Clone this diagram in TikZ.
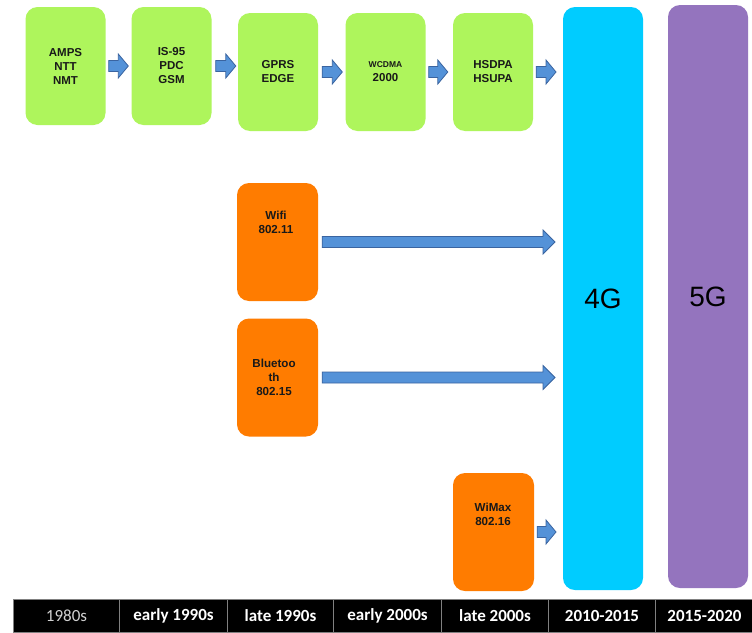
\documentclass[tikz,border=0pt]{standalone}
\usepackage{fontspec}
\setmainfont{Liberation Sans}
\newfontfamily\barfont{Carlito}
\usetikzlibrary{calc}
\definecolor{gengreen}{RGB}{174,245,92}
\definecolor{genorange}{RGB}{255,124,0}
\definecolor{gencyan}{RGB}{0,204,255}
\definecolor{genpurple}{RGB}{148,116,190}
\definecolor{arrfill}{RGB}{84,146,216}
\definecolor{arrline}{RGB}{58,100,160}
\definecolor{txt}{RGB}{25,25,25}
\definecolor{sepgray}{RGB}{128,128,128}
\tikzset{
  genbox/.style={rounded corners=12pt, inner sep=0pt, minimum width=#1},
  greenbox/.style={genbox=80pt, fill=gengreen, minimum height=118pt},
  orangebox/.style={genbox=81pt, fill=genorange, minimum height=118pt},
  tallbox/.style={genbox=80pt, minimum height=583pt},
  boxtext/.style={font=\fontsize{11.5}{14}\selectfont\bfseries, text=txt, align=center, inner sep=0pt},
  radiotext/.style={font=\fontsize{11.6}{14}\selectfont\bfseries, text=txt, align=center, inner sep=0pt},
  bigtext/.style={font=\fontsize{28}{30}\selectfont, text=black, inner sep=0pt},
  yearcell/.style={fill=black, draw=sepgray, line width=1pt, minimum height=33pt, inner sep=0pt,
                   text=white, font=\barfont\fontsize{17}{19}\selectfont\bfseries},
  blockarrow/.style={fill=arrfill, draw=arrline, line width=0.8pt, line join=miter},
}
% block arrow from #1 to #2 (same height): shaft half-height 5.5, head half-height 12, head length #3
\newcommand\blockarr[3]{%
  \path[blockarrow] let \p1=#1, \p2=#2 in
    (\x1,\y1+5.5) -- (\x2-#3,\y1+5.5) -- (\x2-#3,\y1+12) -- (\x2,\y1)
    -- (\x2-#3,\y1-12) -- (\x2-#3,\y1-5.5) -- (\x1,\y1-5.5) -- cycle;}
\begin{document}
\begin{tikzpicture}[x=1pt,y=-1pt]
\useasboundingbox (0,0) rectangle (752,632);
\fill[white] (0,0) rectangle (752,632);

% cellular generations
\node[greenbox] (b1) at (65.5,66) {};
\node[greenbox] (b2) at (171.5,66) {};
\node[greenbox] (b3) at (278,72) {};
\node[greenbox] (b4) at (385.5,72) {};
\node[greenbox] (b5) at (493,72) {};
\node[boxtext] (t1) at (b1) {AMPS\\NTT\\NMT};
\node[boxtext] (t2) at (b2) {IS-95\\PDC\\GSM};
\node[boxtext] (t3) at (b3) {GPRS\\EDGE};
\node[boxtext] (t4) at (b4) {{\fontsize{8.5}{10}\selectfont WCDMA}\\2000};
\node[boxtext] (t5) at (b5) {HSDPA\\HSUPA};

% 4G / 5G columns
\node[tallbox, fill=gencyan] (g4) at (603,298.5) {};
\node[tallbox, fill=genpurple] (g5) at (708,296.5) {};
\node[bigtext] at (g4) {4G};
\node[bigtext] at (g5) {5G};

% wireless standards
\node[orangebox] (wifi) at (277.5,242) {};
\node[orangebox] (bt) at (277.5,377.5) {};
\node[orangebox] (wimax) at (493.5,532) {};
\node[radiotext] (twifi) at (276,222.5) {Wifi\\802.11};
\node[radiotext] (tbt) at (274,377) {Bluetoo\\th\\802.15};
\node[radiotext] (twimax) at (493,514) {WiMax\\802.16};

% arrows between boxes
\coordinate (a5e) at (556,72);
\coordinate (awifi) at (555,242);
\coordinate (abt) at (555,377);
\coordinate (awimax) at (556,532);
\blockarr{($(b1.east)+(3,0)$)}{($(b2.west)+(-3,0)$)}{10}
\blockarr{($(b2.east)+(4,0)$)}{($(b3.west)+(-2,0)$)}{10}
\blockarr{($(b3.east)+(4,0)$)}{($(b4.west)+(-3,0)$)}{10}
\blockarr{($(b4.east)+(3,0)$)}{($(b5.west)+(-5,0)$)}{10}
\blockarr{($(b5.east)+(3,0)$)}{(a5e)}{10}
\blockarr{($(wifi.east)+(4,0)$)}{(awifi)}{12}
\blockarr{($(bt.east)+(4,0)$)}{(abt)}{12}
\blockarr{($(wimax.east)+(3,0)$)}{(awimax)}{10}

% time line
\node[yearcell, minimum width=106pt, anchor=north west, text=white!82!black, font=\barfont\fontsize{17}{19}\selectfont] (y1) at (13,599) {1980s};
\node[yearcell, minimum width=108pt, anchor=north west] (y2) at (119,599) {early 1990s};
\node[yearcell, minimum width=106pt, anchor=north west] (y3) at (227,599) {late 1990s};
\node[yearcell, minimum width=108pt, anchor=north west] (y4) at (333,599) {early 2000s};
\node[yearcell, minimum width=107pt, anchor=north west] (y5) at (441,599) {late 2000s};
\node[yearcell, minimum width=107pt, anchor=north west] (y6) at (548,599) {2010-2015};
\node[yearcell, minimum width=98pt, anchor=north west] (y7) at (655,599) {2015-2020};
\end{tikzpicture}
\end{document}
